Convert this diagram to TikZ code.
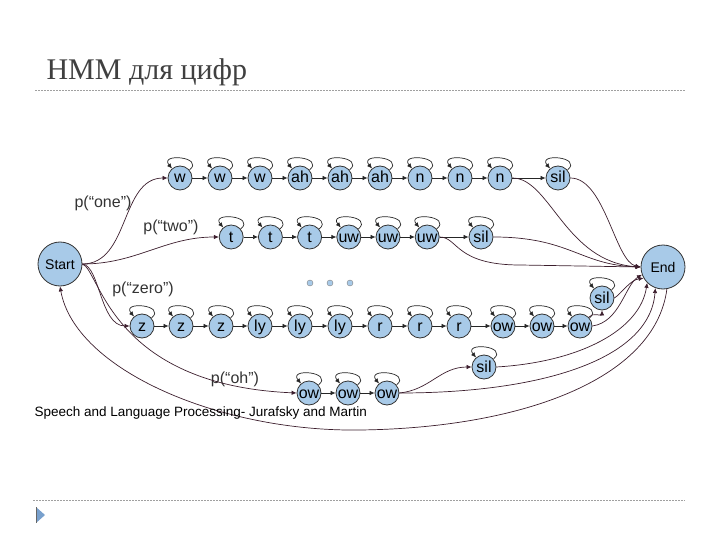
\documentclass[tikz,border=0pt]{standalone}
\usepackage{fontspec}
\setmainfont{Liberation Sans}
\newfontfamily\titlefont{Liberation Serif}
\usepackage{tikz}
\usetikzlibrary{arrows.meta, positioning, calc}
\definecolor{statefill}{RGB}{168, 202, 232}
\definecolor{linkcol}{RGB}{60, 30, 45}
\definecolor{titlegray}{RGB}{64, 64, 64}
\definecolor{rulegray}{RGB}{160, 160, 160}
\definecolor{bulletblue}{RGB}{120, 160, 205}

\begin{document}
\begin{tikzpicture}[x=1pt, y=1pt,
		state/.style={circle, draw=black!80, fill=statefill, line width=0.8pt,
			minimum size=24pt, inner sep=0pt, text height=10pt, text depth=0pt,
			font=\fontsize{16}{16}\selectfont},
		bigstate/.style={state, minimum size=44pt, font=\fontsize{14}{14}\selectfont},
		arr/.style={-{Latex[length=5pt, width=4.5pt]}, line width=0.7pt, color=black!85},
		link/.style={arr, color=linkcol},
		every loop/.style={},
		selfloop/.style={loop, arr, out=40, in=130, min distance=7pt, looseness=3},
		lbl/.style={font=\fontsize{16}{16}\selectfont, text=black!80},
		rule/.style={dash pattern=on 2pt off 1pt, color=rulegray, line width=0.6pt}
		]
		\useasboundingbox (0,0) rectangle (720,-540);
		
		% Titre et cadre
		\node[anchor=base west, font=\titlefont\fontsize{30}{30}\selectfont, text=titlegray]
		(title) at (43,-80) {HMM для цифр};
		\draw[rule] (35,-90) -- (685,-90);
		\draw[rule] (33,-500) -- (685,-500);
		\fill[bulletblue] (36,-507) -- (45,-515) -- (36,-523) -- cycle;
		\draw[black!60, line width=0.8pt] (36,-507) -- (36,-523);
		
		% Start / End
		\node[bigstate] (start) at (60,-264) {Start};
		\node[bigstate] (end)   at (663,-267) {End};
		
		% one
		\foreach \lab [count=\i] in {w,w,w,ah,ah,ah,n,n,n} {
			\node[state] (one\i) at ({140+40*\i}, -178) {\lab};
			\path (one\i) edge[selfloop] (one\i);
		}
		\node[state] (onesil) at (558,-178) {sil};
		\path (onesil) edge[selfloop] (onesil);
		\foreach \i [evaluate=\i as \j using int(\i+1)] in {1,...,8}
		\draw[arr] (one\i) -- (one\j);
		\draw[arr] (one9) -- (onesil);
		
		% two
		\foreach \lab [count=\i] in {t,t,t,uw,uw,uw} {
			\node[state] (two\i) at ({192+39.2*\i}, -237) {\lab};
			\path (two\i) edge[selfloop] (two\i);
		}
		\node[state] (twosil) at (481,-237) {sil};
		\path (twosil) edge[selfloop] (twosil);
		\foreach \i [evaluate=\i as \j using int(\i+1)] in {1,...,5}
		\draw[arr] (two\i) -- (two\j);
		\draw[arr] (two6) -- (twosil);
		
		% ...
		\foreach \x in {310, 330, 350}
		\node[circle, draw=black!50, fill=statefill, minimum size=6pt, inner sep=0pt]
		(dot\x) at (\x,-283) {};
		
		% zero
		\foreach \lab/\x [count=\i] in {z/142, z/181, z/221, ly/260, ly/300, ly/340,
			r/380, r/420, r/459, ow/503, ow/542, ow/580} {
			\node[state] (zero\i) at (\x, -326) {\lab};
			\path (zero\i) edge[selfloop] (zero\i);
		}
		\node[state] (zerosil) at (602,-298) {sil};
		\path (zerosil) edge[selfloop] (zerosil);
		\foreach \i [evaluate=\i as \j using int(\i+1)] in {1,...,11}
		\draw[arr] (zero\i) -- (zero\j);
		
		% oh
		\foreach \x [count=\i] in {309, 348, 387} {
			\node[state] (oh\i) at (\x, -393) {ow};
			\path (oh\i) edge[selfloop] (oh\i);
		}
		\node[state] (ohsil) at (484,-367) {sil};
		\path (ohsil) edge[selfloop] (ohsil);
		\draw[arr] (oh1) -- (oh2);
		\draw[arr] (oh2) -- (oh3);
		
		% Probabilites
		\node[lbl] (pone)  at (103,-203) {p(“one”)};
		\node[lbl] (ptwo)  at (171,-227) {p(“two”)};
		\node[lbl] (pzero) at (143,-289) {p(“zero”)};
		\node[lbl] (poh)   at (235,-379) {p(“oh”)};
		
		% Depuis Start
		\draw[link] (start.east) to[out=0, in=180] (one1.west);
		\draw[link] (start.east) to[out=0, in=180] (two1.west);
		\draw[link] (start.east) .. controls (100,-266) and (100,-326) .. (zero1.west);
		\draw[link] (start.east) .. controls (100,-270) and (110,-385) .. (oh1.west);
		
		% Vers End
		\draw[link] (one9.east) .. controls (550,-178) and (565,-262) .. (end.west);
		\draw[link] (onesil.east) .. controls (605,-178) and (615,-262) .. (end.west);
		\draw[link] (two6.east) .. controls (458,-237) and (455,-265) .. (520,-265) -- (end.west);
		\draw[link] (twosil.east) .. controls (570,-237) and (580,-265) .. (end.west);
		\draw[link] (zero12.north east) to[out=60, in=-90] (zerosil.south);
		\draw[link] (zero12.east) .. controls (620,-322) and (625,-285) .. (end.200);
		\draw[link] (zerosil.east) .. controls (622,-293) and (630,-280) .. (end.210);
		\draw[link] (oh3.east) .. controls (430,-390) and (440,-367) .. (ohsil.west);
		\draw[link] (ohsil.east) .. controls (580,-362) and (640,-330) .. (end.225);
		\draw[link] (oh3.east) .. controls (540,-393) and (650,-360) .. (end.250);
		
		% Retour End -> Start
		\draw[link] (end.280) .. controls (655,-380) and (520,-428) .. (360,-430)
		.. controls (220,-432) and (75,-370) .. (start.south);
		
		\node[anchor=west, font=\fontsize{13.5}{13.5}\selectfont] (source) at (31,-413)
		{Speech and Language Processing- Jurafsky and Martin};
	\end{tikzpicture}
\end{document}
